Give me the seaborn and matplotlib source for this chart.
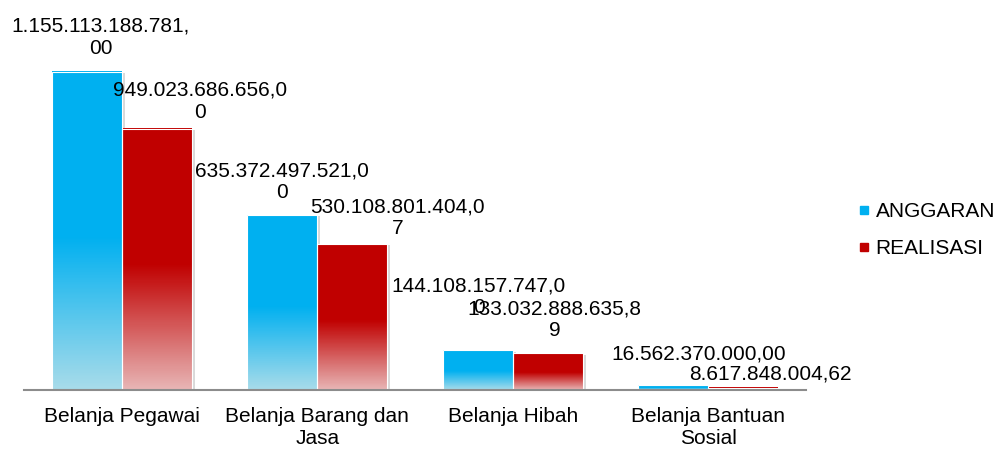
import matplotlib
matplotlib.use("Agg")
import matplotlib.pyplot as plt
import matplotlib.patheffects as pe
from matplotlib.colors import LinearSegmentedColormap
from matplotlib.lines import Line2D
from matplotlib.patches import Rectangle
import numpy as np
import pandas as pd
import seaborn as sns

# data
kategori = ["Belanja Pegawai", "Belanja Barang dan\nJasa", "Belanja Hibah", "Belanja Bantuan\nSosial"]
anggaran = [1155113188781.00, 635372497521.00, 144108157747.00, 16562370000.00]
realisasi = [949023686656.00, 530108801404.07, 133032888635.89, 8617848004.62]
seri = ["ANGGARAN", "REALISASI"]

# colours (top, bottom of the gradient)
warna = {"ANGGARAN": ("#00B0F0", "#A9DCEA"), "REALISASI": ("#C00000", "#E8B6B6")}

# label offsets in pixels (dx, dy above bar top), anggaran first then realisasi
label_dx = [14, 0, 1, 25, 43, 45, 7, 27]
label_dy = [18, 17, 37, 26, 11, 10, 17, 8]

df = pd.DataFrame({
    "kategori": kategori * 2,
    "seri": [seri[0]] * 4 + [seri[1]] * 4,
    "nilai": anggaran + realisasi,
})


def rupiah(v):
    s = f"{v:,.2f}".replace(",", "#").replace(".", ",").replace("#", ".")
    if len(s) > 17:
        cut = 18 if s[17] == "," else 17
        s = s[:cut] + "\n" + s[cut:]
    return s


sns.set_style("white")
plt.rcParams["font.family"] = ["Liberation Sans", "DejaVu Sans"]
plt.rcParams["font.size"] = 15
plt.rcParams["text.color"] = "black"
plt.rcParams["xtick.color"] = "black"
plt.rcParams["xtick.labelcolor"] = "black"

fig = plt.figure(figsize=(10.02, 4.51), dpi=100)
ax = fig.add_axes([24 / 1002, 61 / 451, 782 / 1002, 390 / 451])

sns.barplot(data=df, x="kategori", y="nilai", hue="seri", width=0.716,
            palette=[warna[s][0] for s in seri], ax=ax, legend=False,
            saturation=1, gap=0)

ymax = 1.4166e12
grad = np.linspace(0, 1, 512)

for i, patch in enumerate(ax.patches[:8]):
    s = seri[i // 4]
    top_c, bot_c = warna[s]
    cmap = LinearSegmentedColormap.from_list(s, [(0, bot_c), (0.48, top_c), (1, top_c)])
    x0, y0 = patch.get_x(), patch.get_y()
    w, h = patch.get_width(), patch.get_height()
    patch.set_facecolor("#ffffff")
    patch.set_edgecolor("none")
    patch.set_zorder(1)
    patch.set_path_effects([pe.SimplePatchShadow(offset=(2, -1), shadow_rgbFace="k", alpha=0.15), pe.Normal()])
    ax.imshow(grad.reshape(-1, 1), cmap=cmap, origin="lower", aspect="auto",
              extent=(x0, x0 + w, y0, y0 + h), zorder=2, interpolation="nearest")
    ax.add_patch(Rectangle((x0, y0), w, h, facecolor="none", edgecolor="white", lw=0.8, zorder=3))
    ax.annotate(rupiah(df["nilai"][i]), xy=(x0 + w / 2, y0 + h),
                xytext=(label_dx[i], label_dy[i] - 4), textcoords="offset pixels",
                ha="center", va="bottom", fontsize=15, color="black", zorder=5)

ax.set_xlim(-0.5, 3.5)
ax.set_ylim(0, ymax)
ax.set_xlabel("")
ax.set_ylabel("")
ax.set_yticks([])
ax.tick_params(axis="x", length=0, pad=12, labelsize=15, labelcolor="black")
for side in ["top", "left", "right"]:
    ax.spines[side].set_visible(False)
ax.spines["bottom"].set_color("#8c8c8c")
ax.spines["bottom"].set_linewidth(1.5)
ax.spines["bottom"].set_zorder(4)
ax.patch.set_alpha(0)

handles = [Line2D([], [], marker="s", ls="", color=warna[s][0], markersize=5.5) for s in seri]
fig.legend(handles, seri, loc="center left", bbox_to_anchor=(858 / 1002, 1 - 230 / 451),
           frameon=False, handlelength=0.6, handletextpad=0.25, labelspacing=0.85,
           borderpad=0, borderaxespad=0, fontsize=15, labelcolor="black")

fig.savefig("out.png", dpi=100)
